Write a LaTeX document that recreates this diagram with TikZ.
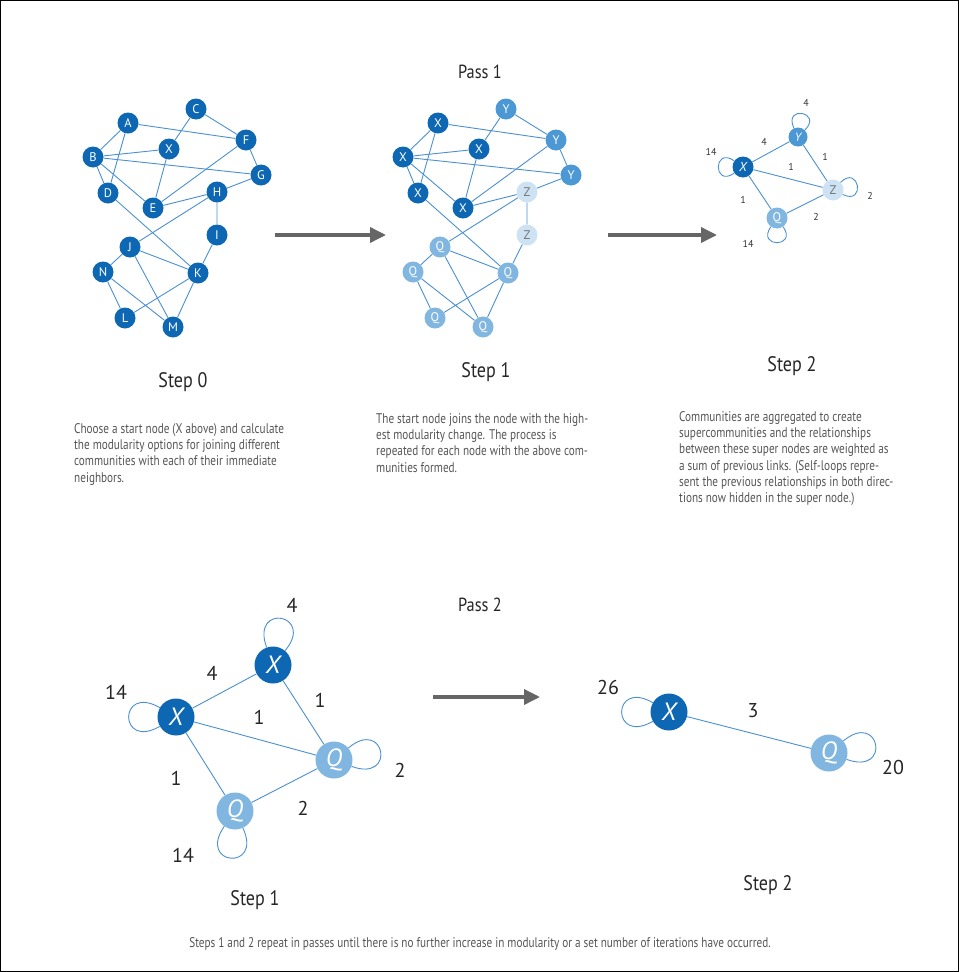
\documentclass[tikz,border=0pt]{standalone}
\usepackage{fontspec}
\setmainfont{PT Sans}
\newfontfamily\narrowfont{PT Sans}[FakeStretch=0.8]
\newfontfamily\headfont{PT Sans}[FakeStretch=0.86]
\usetikzlibrary{arrows.meta}

\definecolor{darkblue}{HTML}{0E67B2}
\definecolor{midblue}{HTML}{4B98D4}
\definecolor{lightblue}{HTML}{80B6DF}
\definecolor{paleblue}{HTML}{CDE2F3}
\definecolor{linkblue}{HTML}{4A90D2}
\definecolor{arrowgray}{HTML}{666666}
\definecolor{textgray}{HTML}{555555}

\tikzstyle{vertex} = [
    circle, inner sep=0pt, minimum size=21pt,
    text=white, font=\fontsize{12.5}{12.5}\selectfont
]
\tikzstyle{xnode} = [vertex, fill=darkblue]
\tikzstyle{ynode} = [vertex, fill=midblue]
\tikzstyle{znode} = [vertex, fill=paleblue, text=black!55]
\tikzstyle{qnode} = [vertex, fill=lightblue]
\tikzstyle{bignode} = [minimum size=37pt, font=\fontsize{25}{25}\selectfont\itshape]
\tikzstyle{link} = [linkblue, line width=0.9pt]
\tikzstyle{arrow} = [arrowgray, line width=3.5pt, -{Triangle[length=16pt,width=15pt]}]
\tikzstyle{title} = [text=black!85, font=\headfont\fontsize{21}{21}\selectfont]
\tikzstyle{para} = [
    anchor=north west, align=left, inner sep=0pt,
    text=textgray, font=\narrowfont\fontsize{14}{16.3}\selectfont
]
\tikzstyle{weight} = [text=black!80, font=\fontsize{10}{10}\selectfont]
\tikzstyle{bigweight} = [text=black!85, font=\fontsize{20}{20}\selectfont]

\begin{document}
\begin{tikzpicture}[x=1pt, y=-1pt]
    \useasboundingbox (0,0) rectangle (959,972);
    \draw [black, line width=0.8pt] (0.5,0.5) rectangle (958.5,971.5);

    % Pass 1
    \node (pass1) [title, font=\headfont\fontsize{19}{19}\selectfont] at (480,72) {Pass 1};

    % Step 0
    \node (a0) [xnode] at (128,123) {A};
    \node (c0) [xnode] at (196,109) {C};
    \node (f0) [xnode] at (246,140) {F};
    \node (x0) [xnode] at (169,149) {X};
    \node (b0) [xnode] at (93,157) {B};
    \node (g0) [xnode] at (261,175) {G};
    \node (d0) [xnode] at (108,193) {D};
    \node (h0) [xnode] at (217,192) {H};
    \node (e0) [xnode] at (153,208) {E};
    \node (i0) [xnode] at (217,235) {I};
    \node (j0) [xnode] at (130,247) {J};
    \node (n0) [xnode] at (103,272) {N};
    \node (k0) [xnode] at (198,273) {K};
    \node (l0) [xnode] at (125,318) {L};
    \node (m0) [xnode] at (173,327) {M};

    \draw [link] (a0) -- (b0) (a0) -- (d0) (a0) -- (f0);
    \draw [link] (b0) -- (x0) (b0) -- (g0) (b0) -- (d0) (b0) -- (e0);
    \draw [link] (c0) -- (x0) (c0) -- (f0);
    \draw [link] (x0) -- (e0) (f0) -- (e0) (f0) -- (g0);
    \draw [link] (g0) -- (h0) (h0) -- (e0) (h0) -- (j0) (h0) -- (i0);
    \draw [link] (i0) -- (k0) (d0) -- (k0);
    \draw [link] (j0) -- (k0) (j0) -- (n0) (j0) -- (m0);
    \draw [link] (n0) -- (l0) (n0) -- (m0) (l0) -- (k0) (m0) -- (k0);

    \node (step0) [title] at (183,382) {Step 0};
    \node (text0) [para] at (74,423) {Choose a start node (X above) and calculate\\
        the modularity options for joining different\\
        communities with each of their immediate\\
        neighbors.};

    \coordinate (arr0s) at (275,235);
    \coordinate (arr0e) at (386,235);
    \draw [arrow] (arr0s) -- (arr0e);

    % Step 1
    \node (a1) [xnode] at (438,123) {X};
    \node (c1) [ynode] at (506,109) {Y};
    \node (f1) [ynode] at (556,140) {Y};
    \node (x1) [xnode] at (479,149) {X};
    \node (b1) [xnode] at (403,157) {X};
    \node (g1) [ynode] at (571,175) {Y};
    \node (d1) [xnode] at (418,193) {X};
    \node (h1) [znode] at (527,192) {Z};
    \node (e1) [xnode] at (463,208) {X};
    \node (i1) [znode] at (527,235) {Z};
    \node (j1) [qnode] at (440,247) {Q};
    \node (n1) [qnode] at (413,272) {Q};
    \node (k1) [qnode] at (508,273) {Q};
    \node (l1) [qnode] at (435,318) {Q};
    \node (m1) [qnode] at (483,327) {Q};

    \draw [link] (a1) -- (b1) (a1) -- (d1) (a1) -- (f1);
    \draw [link] (b1) -- (x1) (b1) -- (g1) (b1) -- (d1) (b1) -- (e1);
    \draw [link] (c1) -- (x1) (c1) -- (f1);
    \draw [link] (x1) -- (e1) (f1) -- (e1) (f1) -- (g1);
    \draw [link] (g1) -- (h1) (h1) -- (e1) (h1) -- (j1) (h1) -- (i1);
    \draw [link] (i1) -- (k1) (d1) -- (k1);
    \draw [link] (j1) -- (k1) (j1) -- (n1) (j1) -- (m1);
    \draw [link] (n1) -- (l1) (n1) -- (m1) (l1) -- (k1) (m1) -- (k1);

    \node (step1) [title] at (486,372) {Step 1};
    \node (text1) [para] at (376,413) {The start node joins the node with the high-\\
        est modularity change. The process is\\
        repeated for each node with the above com-\\
        munities formed.};

    \coordinate (arr1s) at (608,235);
    \coordinate (arr1e) at (717,235);
    \draw [arrow] (arr1s) -- (arr1e);

    % Step 2
    \node (sx) [xnode, font=\fontsize{13}{13}\selectfont\itshape] at (743,167) {X};
    \node (sy) [ynode, minimum size=19pt, font=\fontsize{12}{12}\selectfont\itshape] at (798,137) {Y};
    \node (sz) [znode] at (833,190) {Z};
    \node (sq) [qnode] at (777,218) {Q};

    \draw [link] (sx) -- (sy) (sx) -- (sz) (sx) -- (sq) (sy) -- (sz) (sq) -- (sz);
    \draw [link] (sx) to[out=145, in=215, min distance=26pt] (sx);
    \draw [link] (sy) to[out=115, in=45, min distance=26pt] (sy);
    \draw [link] (sz) to[out=45, in=-25, min distance=26pt] (sz);
    \draw [link] (sq) to[out=-55, in=-125, min distance=26pt] (sq);

    \node (w1) [weight] at (806,103) {4};
    \node (w2) [weight] at (764,142) {4};
    \node (w3) [weight] at (711,152) {14};
    \node (w4) [weight] at (791,167) {1};
    \node (w5) [weight] at (825,157) {1};
    \node (w6) [weight] at (870,196) {2};
    \node (w7) [weight] at (743,200) {1};
    \node (w8) [weight] at (816,217) {2};
    \node (w9) [weight] at (748,244) {14};

    \node (step2) [title] at (792,366) {Step 2};
    \node (text2) [para] at (679,411) {Communities are aggregated to create\\
        supercommunities and the relationships\\
        between these super nodes are weighted as\\
        a sum of previous links. (Self-loops repre-\\
        sent the previous relationships in both direc-\\
        tions now hidden in the super node.)};

    % Pass 2
    \node (pass2) [title, font=\headfont\fontsize{19}{19}\selectfont] at (480,605) {Pass 2};

    \node (px1) [xnode, bignode] at (176,717) {X};
    \node (px2) [xnode, bignode] at (273,665) {X};
    \node (pq1) [qnode, bignode] at (334,760) {Q};
    \node (pq2) [qnode, bignode] at (235,811) {Q};

    \draw [link] (px1) -- (px2) (px1) -- (pq1) (px1) -- (pq2) (px2) -- (pq1) (pq2) -- (pq1);
    \draw [link] (px1) to[out=150, in=210, min distance=48pt] (px1);
    \draw [link] (px2) to[out=110, in=50, min distance=48pt] (px2);
    \draw [link] (pq1) to[out=40, in=-20, min distance=48pt] (pq1);
    \draw [link] (pq2) to[out=-65, in=-125, min distance=48pt] (pq2);

    \node (v1) [bigweight] at (292,605) {4};
    \node (v2) [bigweight] at (212,673) {4};
    \node (v3) [bigweight] at (116,692) {14};
    \node (v4) [bigweight] at (259,717) {1};
    \node (v5) [bigweight] at (320,700) {1};
    \node (v6) [bigweight] at (400,770) {2};
    \node (v7) [bigweight] at (176,778) {1};
    \node (v8) [bigweight] at (303,808) {2};
    \node (v9) [bigweight] at (183,855) {14};

    \node (pstep1) [title] at (255,900) {Step 1};

    \coordinate (arr2s) at (433,697);
    \coordinate (arr2e) at (540,697);
    \draw [arrow] (arr2s) -- (arr2e);

    \node (fx) [xnode, bignode] at (669,712) {X};
    \node (fq) [qnode, bignode] at (829,753) {Q};

    \draw [link] (fx) -- (fq);
    \draw [link] (fx) to[out=150, in=210, min distance=48pt] (fx);
    \draw [link] (fq) to[out=40, in=-20, min distance=48pt] (fq);

    \node (u1) [bigweight] at (608,687) {26};
    \node (u2) [bigweight] at (753,711) {3};
    \node (u3) [bigweight] at (893,767) {20};

    \node (pstep2) [title] at (768,885) {Step 2};

    \node (note) [para, anchor=center] at (480,944) {Steps 1 and 2 repeat in passes until there is no further increase in modularity or a set number of iterations have occurred.};
\end{tikzpicture}
\end{document}
